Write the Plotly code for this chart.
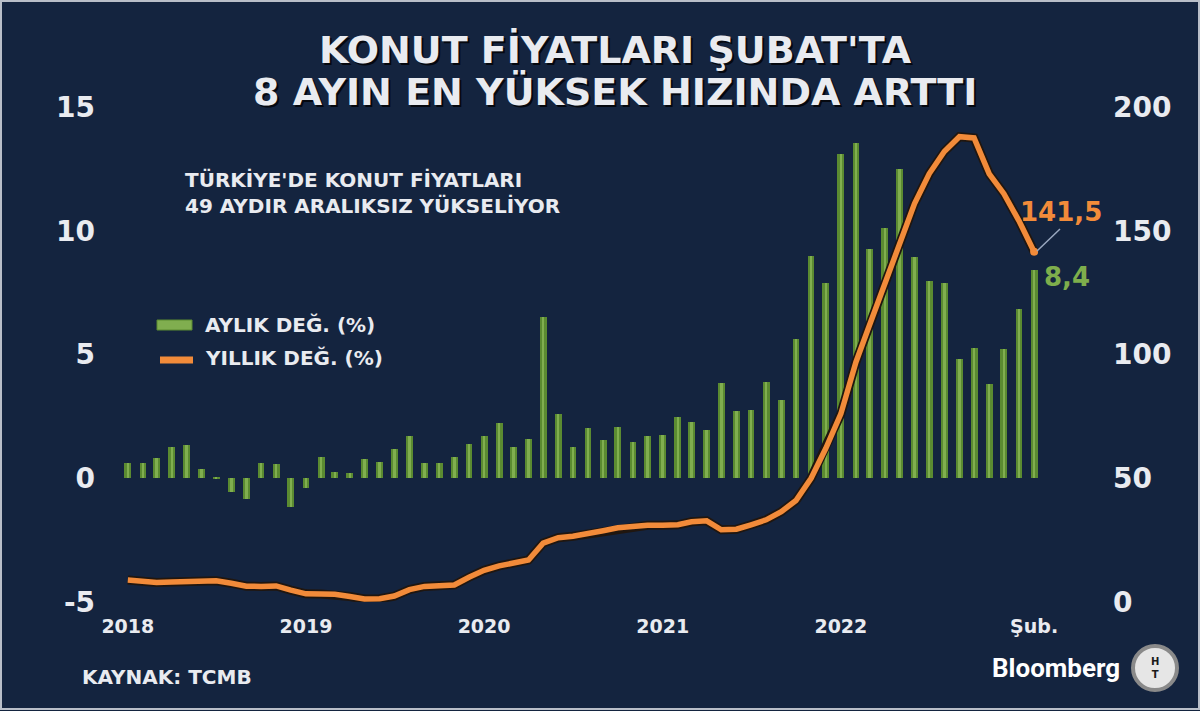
import pandas as pd
import plotly.graph_objects as go

# ---------------- data ----------------
start_month = "2018-01-01"
monthly_change = [0.6, 0.6, 0.8, 1.26, 1.33, 0.39, 0.07, -0.55, -0.85, 0.6, 0.57, -1.15,
                  -0.4, 0.86, 0.27, 0.2, 0.77, 0.67, 1.2, 1.71, 0.63, 0.63, 0.86, 1.4,
                  1.71, 2.25, 1.28, 1.6, 6.53, 2.59, 1.28, 2.05, 1.53, 2.09, 1.47, 1.71,
                  1.74, 2.48, 2.28, 1.94, 3.84, 2.72, 2.76, 3.89, 3.15, 5.64, 8.98, 7.87,
                  13.09, 13.53, 9.25, 10.1, 12.51, 8.94, 7.97, 7.9, 4.83, 5.27, 3.82, 5.24,
                  6.85, 8.4]
annual_change = [8.9, 8.3, 7.9, 8.1, 8.4, 8.6, 8.6, 7.6, 6.4, 6.3, 6.5, 4.8,
                 3.3, 3.2, 3.1, 2.2, 1.2, 1.3, 2.4, 5.0, 6.3, 6.6, 6.9, 10.0,
                 12.8, 14.6, 16.0, 17.0, 23.8, 26.0, 26.6, 27.5, 28.8, 30.0, 30.6, 31.0,
                 31.0, 31.2, 32.4, 32.8, 29.2, 29.4, 31.2, 33.2, 36.5, 41.0, 50.0, 62.0,
                 76.0, 97.0, 112.0, 128.0, 143.6, 161.0, 173.0, 182.0, 188.0, 187.5, 173.0, 165.0,
                 154.0, 141.5]
tick_labels = ["2018", "2019", "2020", "2021", "2022", "Şub."]
tick_dates = ["2018-01-01", "2019-01-01", "2020-01-01", "2021-01-01", "2022-01-01", "2023-02-01"]
last_annual_label = "141,5"
last_monthly_label = "8,4"

months = pd.date_range(start_month, periods=len(monthly_change), freq="MS")

# ---------------- style ----------------
BG = "#14243f"
TXT = "#e9ebf0"
GREEN = "#5b8b31"
GREEN_HI = "#80ae4f"
GREEN_TXT = "#7eae4c"
ORANGE = "#f28b3a"
FONT = "DejaVu Sans"

L, R, T, B = 100, 1100, 107, 602  # plot area in pixels


def px(xp):
    return (xp - L) / (R - L)


def py(yp):
    return (B - yp) / (B - T)


DAY = 86400000
fig = go.Figure()

fig.add_trace(go.Bar(x=months, y=monthly_change, width=14 * DAY, marker=dict(color=GREEN, line=dict(width=0)),
                     name="AYLIK DEĞ. (%)", hoverinfo="x+y"))
fig.add_trace(go.Bar(x=months, y=monthly_change, width=5 * DAY, marker=dict(color=GREEN_HI, line=dict(width=0)),
                     showlegend=False, hoverinfo="skip"))
fig.add_trace(go.Scatter(x=months, y=annual_change, yaxis="y2", mode="lines",
                         line=dict(color="#20160f", width=9, shape="linear"), showlegend=False, hoverinfo="skip"))
fig.add_trace(go.Scatter(x=months, y=annual_change, yaxis="y2", mode="lines",
                         line=dict(color=ORANGE, width=5.5), name="YILLIK DEĞ. (%)"))
fig.add_trace(go.Scatter(x=[months[-1]], y=[annual_change[-1]], yaxis="y2", mode="markers",
                         marker=dict(color=ORANGE, size=8), showlegend=False, hoverinfo="skip"))

fig.update_layout(
    width=1200, height=711,
    margin=dict(l=L, r=1200 - R, t=T, b=711 - B),
    paper_bgcolor=BG, plot_bgcolor=BG,
    barmode="overlay", bargap=0,
    showlegend=False,
    font=dict(family=FONT, color=TXT),
    xaxis=dict(type="date", range=["2017-11-05", "2023-06-16"], tickvals=tick_dates, ticktext=tick_labels,
               showgrid=False, zeroline=False, showline=False, ticks="",
               tickfont=dict(family=FONT, size=19, color=TXT, weight="bold"), ticklabelstandoff=11),
    yaxis=dict(range=[-5, 15], tickvals=[-5, 0, 5, 10, 15], ticktext=["-5", "0", "5", "10", "15"],
               showgrid=False, zeroline=False, showline=False, ticks="",
               tickfont=dict(family=FONT, size=28, color=TXT, weight="bold"), ticklabelstandoff=4),
    yaxis2=dict(range=[0, 200], overlaying="y", side="right", tickvals=[0, 50, 100, 150, 200],
                showgrid=False, zeroline=False, showline=False, ticks="",
                tickfont=dict(family=FONT, size=28, color=TXT, weight="bold"), ticklabelstandoff=12),
)

ann = []
title_lines = ["KONUT FİYATLARI ŞUBAT'TA", "8 AYIN EN YÜKSEK HIZINDA ARTTI"]
for i, line in enumerate(title_lines):
    yc = 50 + 42 * i
    ann.append(dict(text=line, x=px(617), y=py(yc + 2), xref="paper", yref="paper", showarrow=False,
                    xanchor="center", yanchor="middle", font=dict(family=FONT, size=38, color="#05080f", weight="bold")))
    ann.append(dict(text=line, x=px(615), y=py(yc), xref="paper", yref="paper", showarrow=False,
                    xanchor="center", yanchor="middle", font=dict(family=FONT, size=38, color=TXT, weight="bold")))

ann.append(dict(text="TÜRKİYE'DE KONUT FİYATLARI<br>49 AYDIR ARALIKSIZ YÜKSELİYOR", x=px(183), y=py(193),
                xref="paper", yref="paper", showarrow=False, xanchor="left", yanchor="middle", align="left",
                font=dict(family=FONT, size=20, color=TXT, weight="bold")))

ann.append(dict(text="AYLIK DEĞ. (%)", x=px(203), y=py(325), xref="paper", yref="paper", showarrow=False,
                xanchor="left", yanchor="middle", font=dict(family=FONT, size=20, color=TXT, weight="bold")))
ann.append(dict(text="YILLIK DEĞ. (%)", x=px(203), y=py(358), xref="paper", yref="paper", showarrow=False,
                xanchor="left", yanchor="middle", font=dict(family=FONT, size=20, color=TXT, weight="bold")))

ann.append(dict(text=last_annual_label, x=px(1018), y=py(212), xref="paper", yref="paper", showarrow=False,
                xanchor="left", yanchor="middle", font=dict(family=FONT, size=26, color=ORANGE, weight="bold")))
ann.append(dict(text=last_monthly_label, x=px(1042), y=py(277), xref="paper", yref="paper", showarrow=False,
                xanchor="left", yanchor="middle", font=dict(family=FONT, size=26, color=GREEN_TXT, weight="bold")))

ann.append(dict(text="KAYNAK: TCMB", x=px(80), y=py(677), xref="paper", yref="paper", showarrow=False,
                xanchor="left", yanchor="middle", font=dict(family=FONT, size=20, color=TXT, weight="bold")))
ann.append(dict(text="Bloomberg", x=px(1122), y=py(668), xref="paper", yref="paper", showarrow=False,
                xanchor="right", yanchor="middle", font=dict(family="Roboto", size=26, color="#ffffff", weight="bold")))
ann.append(dict(text="H<br>T", x=px(1155), y=py(668), xref="paper", yref="paper", showarrow=False,
                xanchor="center", yanchor="middle", font=dict(family=FONT, size=10, color="#1a1a1a", weight="bold")))

fig.update_layout(annotations=ann)

shapes = [
    dict(type="rect", xref="paper", yref="paper", x0=px(157), x1=px(192), y0=py(320), y1=py(330),
         fillcolor=GREEN_HI, line=dict(color=GREEN, width=1)),
    dict(type="line", xref="paper", yref="paper", x0=px(160), x1=px(193), y0=py(360), y1=py(360),
         line=dict(color=ORANGE, width=7)),
    dict(type="line", xref="paper", yref="paper", x0=px(1037), x1=px(1060), y0=py(251), y1=py(229),
         line=dict(color="#9aa8c0", width=1.5)),
    dict(type="circle", xref="paper", yref="paper", x0=px(1133), x1=px(1177), y0=py(646), y1=py(690),
         fillcolor="#e6e6e6", line=dict(color="#8a8a8a", width=4)),
    dict(type="rect", xref="paper", yref="paper", x0=px(1), x1=px(1199), y0=py(709), y1=py(1),
         line=dict(color="#b9bec8", width=2)),
]
fig.update_layout(shapes=shapes)

fig.write_html("out.html")
